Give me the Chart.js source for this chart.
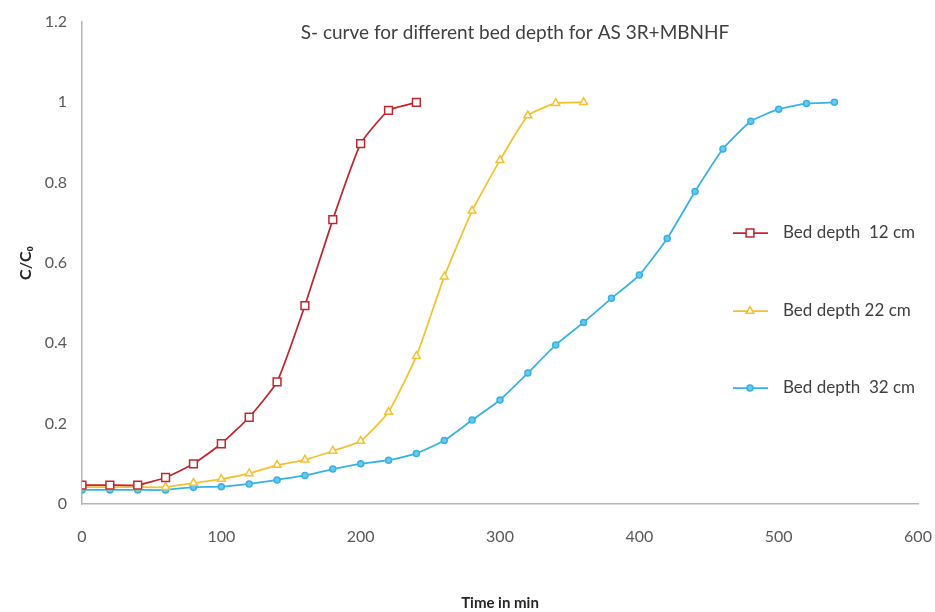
<!DOCTYPE html>
<html>
<head>
<meta charset="utf-8">
<script src="https://cdn.jsdelivr.net/npm/chart.js@4.4.1/dist/chart.umd.min.js"></script>
<style>
  body { margin: 0; background: #fff; }
  #wrap { width: 935px; height: 612px; position: relative; }
</style>
</head>
<body>
<div id="wrap"><canvas id="myChart"></canvas></div>
<script>
// values
var time12 = [0, 20, 40, 60, 80, 100, 120, 140, 160, 180, 200, 220, 240];
var depth12 = [0.047, 0.047, 0.047, 0.066, 0.1, 0.15, 0.216, 0.304, 0.494, 0.708, 0.897, 0.98, 1.0];

var time22 = [0, 20, 40, 60, 80, 100, 120, 140, 160, 180, 200, 220, 240, 260, 280, 300, 320, 340, 360];
var depth22 = [0.042, 0.042, 0.042, 0.042, 0.052, 0.062, 0.076, 0.097, 0.11, 0.132, 0.157, 0.229, 0.368, 0.566, 0.73, 0.856, 0.967, 0.998, 1.0];

var time32 = [0, 20, 40, 60, 80, 100, 120, 140, 160, 180, 200, 220, 240, 260, 280, 300, 320, 340, 360, 380, 400, 420, 440, 460, 480, 500, 520, 540];
var depth32 = [0.035, 0.035, 0.035, 0.035, 0.042, 0.043, 0.05, 0.06, 0.071, 0.087, 0.1, 0.109, 0.126, 0.158, 0.209, 0.259, 0.326, 0.396, 0.452, 0.512, 0.57, 0.661, 0.778, 0.884, 0.953, 0.983, 0.997, 1.0];

var seriesNames = ["Bed depth  12 cm", "Bed depth 22 cm", "Bed depth  32 cm"];
var titleText = "S- curve for different bed depth for AS 3R+MBNHF";

const red = "#c0272d";
const gold = "#f3c132";
const blue = "#35b2e3";
const fontFam = "Lato, 'Open Sans', sans-serif";

function toPoints(xs, ys) {
  var arr = [];
  for (let i = 0; i < xs.length; i++) {
    arr.push({ x: xs[i], y: ys[i] });
  }
  return arr;
}

// title and legend sit inside the plot area like the original
const overlay = {
  id: "overlay",
  afterDraw(chart) {
    const ctx = chart.ctx;
    ctx.save();
    ctx.fillStyle = "#404040";
    ctx.font = "19px " + fontFam;
    ctx.textAlign = "center";
    ctx.textBaseline = "middle";
    ctx.fillText(titleText, 515, 33);

    const ys = [233, 311, 388];
    ctx.textAlign = "left";
    ctx.font = "17px " + fontFam;
    chart.data.datasets.forEach(function (ds, i) {
      ctx.strokeStyle = ds.borderColor;
      ctx.lineWidth = 1.75;
      ctx.beginPath();
      ctx.moveTo(733, ys[i]);
      ctx.lineTo(768, ys[i]);
      ctx.stroke();
      ctx.fillStyle = ds.pointBackgroundColor;
      ctx.strokeStyle = ds.borderColor;
      ctx.lineWidth = 1.5;
      Chart.helpers.drawPoint(ctx, {
        pointStyle: ds.pointStyle,
        radius: ds.pointRadius,
        borderWidth: 1.5,
        rotation: 0
      }, 750, ys[i]);
      ctx.fillStyle = "#404040";
      ctx.fillText(seriesNames[i], 783, ys[i]);
    });
    ctx.restore();
  }
};

const config = {
  type: "line",
  data: {
    datasets: [
      {
        label: seriesNames[0],
        data: toPoints(time12, depth12),
        borderColor: red,
        pointBackgroundColor: "#ffffff",
        pointBorderColor: red,
        pointStyle: "rect",
        pointRadius: 5.5,
        pointBorderWidth: 1.5,
        borderWidth: 1.75,
        tension: 0.15,
      },
      {
        label: seriesNames[1],
        data: toPoints(time22, depth22),
        borderColor: gold,
        pointBackgroundColor: "#ffffff",
        pointBorderColor: gold,
        pointStyle: "triangle",
        pointRadius: 4.5,
        pointBorderWidth: 1.5,
        borderWidth: 1.75,
        tension: 0.15,
      },
      {
        label: seriesNames[2],
        data: toPoints(time32, depth32),
        borderColor: blue,
        pointBackgroundColor: "#6cc7ee",
        pointBorderColor: blue,
        pointStyle: "circle",
        pointRadius: 3,
        pointBorderWidth: 1.5,
        borderWidth: 1.75,
        tension: 0.15,
      },
    ],
  },
  options: {
    responsive: true,
    maintainAspectRatio: false,
    animation: false,
    layout: { padding: { left: 0, right: 0, top: 22, bottom: 0 } },
    plugins: {
      legend: { display: false },
      tooltip: { enabled: false },
    },
    scales: {
      x: {
        type: "linear",
        min: 0,
        max: 600,
        grid: { display: false },
        border: { display: true, color: "#b5b5b5", width: 1.5 },
        ticks: {
          stepSize: 100,
          padding: 15,
          color: "#595959",
          font: { family: fontFam, size: 16 },
          maxRotation: 0,
        },
        title: {
          display: true,
          text: "Time in min",
          color: "#262626",
          font: { family: fontFam, size: 15, weight: "bold" },
          padding: { top: 0, bottom: 0 },
        },
        afterFit: function (scale) {
          scale.height = 108;
          scale.paddingRight = 17;
        },
      },
      y: {
        min: 0,
        max: 1.2,
        grid: { display: false },
        border: { display: true, color: "#b5b5b5", width: 1.5 },
        ticks: {
          stepSize: 0.2,
          padding: 7,
          color: "#595959",
          font: { family: fontFam, size: 16 },
          callback: function (v) { return String(+v.toFixed(1)); },
        },
        title: {
          display: true,
          text: "C/C₀",
          color: "#262626",
          font: { family: fontFam, size: 16, weight: "bold" },
          padding: { top: 16, bottom: 0 },
        },
        afterFit: function (scale) { scale.width = 82; },
      },
    },
  },
  plugins: [overlay],
};

const myChart = new Chart(document.getElementById("myChart"), config);
</script>
</body>
</html>
